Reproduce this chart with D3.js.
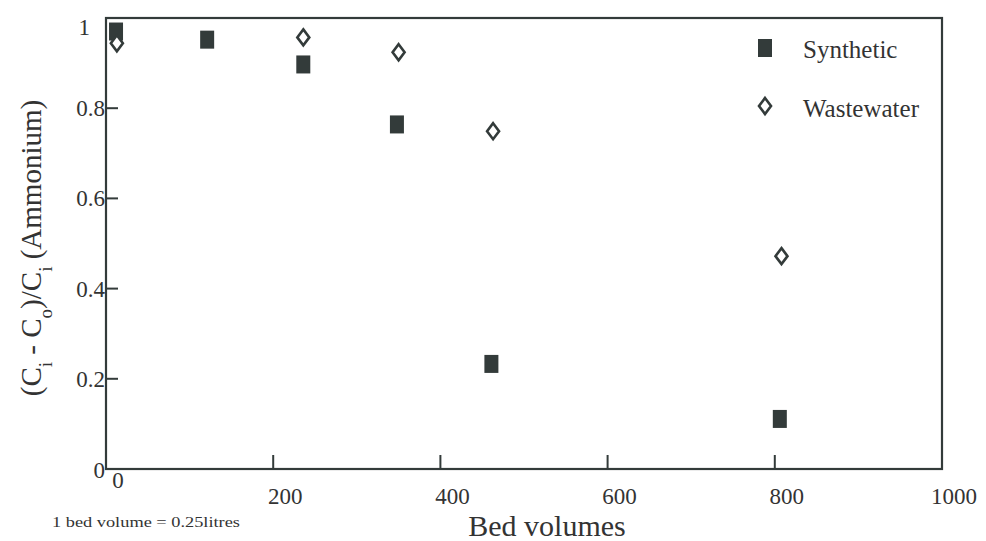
<!DOCTYPE html>
<html>
<head>
<meta charset="utf-8">
<script src="https://cdn.jsdelivr.net/npm/d3@7"></script>
<style>
  body { margin: 0; background: #fff; }
  svg text { font-family: "Liberation Serif", "DejaVu Serif", serif; fill: #333; }
</style>
</head>
<body>
<div id="chart"></div>
<script>
// data
var bedVolumes = [12, 121, 236, 348, 461, 806];
var synthetic = [0.97, 0.952, 0.897, 0.764, 0.233, 0.111];
var wasteX = [13, 236, 350, 463, 808];
var wastewater = [0.944, 0.957, 0.924, 0.749, 0.472];
var xTicks = [0, 200, 400, 600, 800, 1000];
var yTicks = [0.2, 0.4, 0.6, 0.8, 1];

var W = 986, H = 541;
var ink = "#333b3a";

var svg = d3.select("#chart").append("svg")
  .attr("width", W)
  .attr("height", H);

var x = d3.scaleLinear().domain([0, 1000]).range([106, 942]);
var y = d3.scaleLinear().domain([0, 1]).range([469, 18]);

// frame
svg.append("rect")
  .attr("x", x(0)).attr("y", y(1))
  .attr("width", x(1000) - x(0))
  .attr("height", y(0) - y(1))
  .attr("fill", "none")
  .attr("stroke", ink)
  .attr("stroke-width", 2.2);

// y ticks point inward from the left edge
svg.selectAll(".ytick").data(yTicks.slice(0, 4)).enter().append("line")
  .attr("x1", x(0)).attr("x2", x(0) + 12)
  .attr("y1", function(d) { return y(d); })
  .attr("y2", function(d) { return y(d); })
  .attr("stroke", ink).attr("stroke-width", 2);

svg.selectAll(".ylab").data(yTicks).enter().append("text")
  .attr("x", function(d) { return d == 1 ? x(0) - 16 : x(0) - 1; })
  .attr("y", function(d) { return d == 1 ? y(d) + 17 : y(d) + 8; })
  .attr("text-anchor", "end")
  .style("font-size", "23px")
  .text(function(d) { return d == 1 ? "1" : d3.format(".1f")(d); });

// x ticks point upward
svg.selectAll(".xtick").data(xTicks.slice(1, 5)).enter().append("line")
  .attr("x1", function(d) { return x(d); })
  .attr("x2", function(d) { return x(d); })
  .attr("y1", y(0)).attr("y2", y(0) - 14)
  .attr("stroke", ink).attr("stroke-width", 2);

svg.selectAll(".xlab").data(xTicks).enter().append("text")
  .attr("x", function(d) { return x(d) + 12; })
  .attr("y", function(d) { return d == 0 ? y(0) + 19 : y(0) + 35; })
  .attr("text-anchor", "middle")
  .style("font-size", "23px")
  .text(function(d) { return d; });

// the y-axis zero
svg.append("text")
  .attr("x", x(0) - 1).attr("y", y(0) + 9)
  .attr("text-anchor", "end")
  .style("font-size", "23px")
  .text("0");

// axis titles
svg.append("text")
  .attr("x", 547).attr("y", 536)
  .attr("text-anchor", "middle")
  .style("font-size", "30px")
  .text("Bed volumes");

svg.append("text")
  .attr("x", 52).attr("y", 527)
  .attr("textLength", 188)
  .attr("lengthAdjust", "spacingAndGlyphs")
  .style("font-size", "15px")
  .text("1 bed volume = 0.25litres");

var ylab = svg.append("text")
  .attr("transform", "translate(41,248) rotate(-90)")
  .attr("text-anchor", "middle")
  .style("font-size", "29px");
ylab.append("tspan").text("(C");
ylab.append("tspan").attr("baseline-shift", "sub").style("font-size", "19px").text("i");
ylab.append("tspan").text(" - C");
ylab.append("tspan").attr("baseline-shift", "sub").style("font-size", "19px").text("o");
ylab.append("tspan").text(")/C");
ylab.append("tspan").attr("baseline-shift", "sub").style("font-size", "19px").text("i");
ylab.append("tspan").text(" (Ammonium)");

// markers
function square(g, cx, cy) {
  g.append("rect")
    .attr("x", cx - 7).attr("y", cy - 9)
    .attr("width", 14).attr("height", 18)
    .attr("fill", ink);
}
function diamond(g, cx, cy) {
  g.append("path")
    .attr("d", "M" + cx + "," + (cy - 8) + "L" + (cx + 6) + "," + cy +
               "L" + cx + "," + (cy + 8) + "L" + (cx - 6) + "," + cy + "Z")
    .attr("fill", "#fff")
    .attr("stroke", ink)
    .attr("stroke-width", 2.6);
}

var marks = svg.append("g");
bedVolumes.forEach(function(v, i) { square(marks, x(v), y(synthetic[i])); });
wasteX.forEach(function(v, i) { diamond(marks, x(v), y(wastewater[i])); });

// legend
square(svg, 765, 48);
svg.append("text").attr("x", 803).attr("y", 58)
  .style("font-size", "25px").text("Synthetic");
diamond(svg, 765, 106);
svg.append("text").attr("x", 803).attr("y", 117)
  .style("font-size", "25px").text("Wastewater");
</script>
</body>
</html>
